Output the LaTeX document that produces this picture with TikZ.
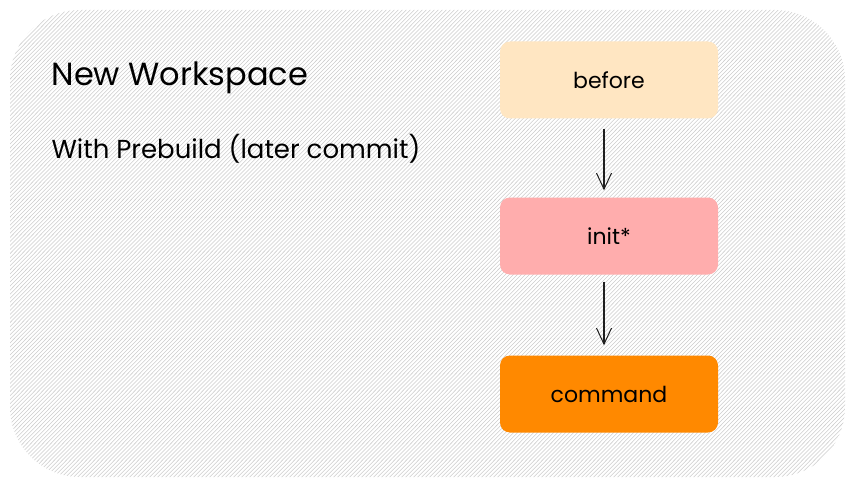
\documentclass[tikz,border=0pt]{standalone}
\usepackage{fontspec}
\setmainfont{Poppins}
\usetikzlibrary{arrows.meta}

\begin{document}
\begin{tikzpicture}[x=1pt,y=-1pt,
    step box/.style={rounded corners=10pt, minimum width=218pt, minimum height=77pt, inner sep=0pt, font=\fontsize{22}{26}\selectfont},
    flow/.style={draw=black!88, line width=1.1pt, -{Straight Barb[length=16pt,width=15pt,line width=1pt]}}]
    \useasboundingbox (0,0) rectangle (855,487);
    \begin{scope}
        \clip[rounded corners=70pt] (10,10) rectangle (845,477);
        \foreach \i in {0,4,...,1340}
            \draw[gray!40, line width=0.55pt] (\i-480,487) -- (\i,0);
    \end{scope}
    \node[anchor=west, font=\fontsize{32}{38}\selectfont] (title) at (48,78) {New Workspace};
    \node[anchor=west, font=\fontsize{26}{30}\selectfont] (sub) at (48,149) {With Prebuild (later commit)};
    \node[step box, fill={rgb,255:red,255;green,230;blue,194}] (before) at (609,80) {before};
    \node[step box, fill={rgb,255:red,255;green,173;blue,173}] (init) at (609,236) {init*};
    \node[step box, fill={rgb,255:red,255;green,137;blue,0}] (command) at (609,394) {command};
    \draw[flow] ([xshift=-5pt,yshift=-10pt]before.south) -- ([xshift=-5pt,yshift=7pt]init.north);
    \draw[flow] ([xshift=-5pt,yshift=-7pt]init.south) -- ([xshift=-5pt,yshift=10pt]command.north);
\end{tikzpicture}
\end{document}
